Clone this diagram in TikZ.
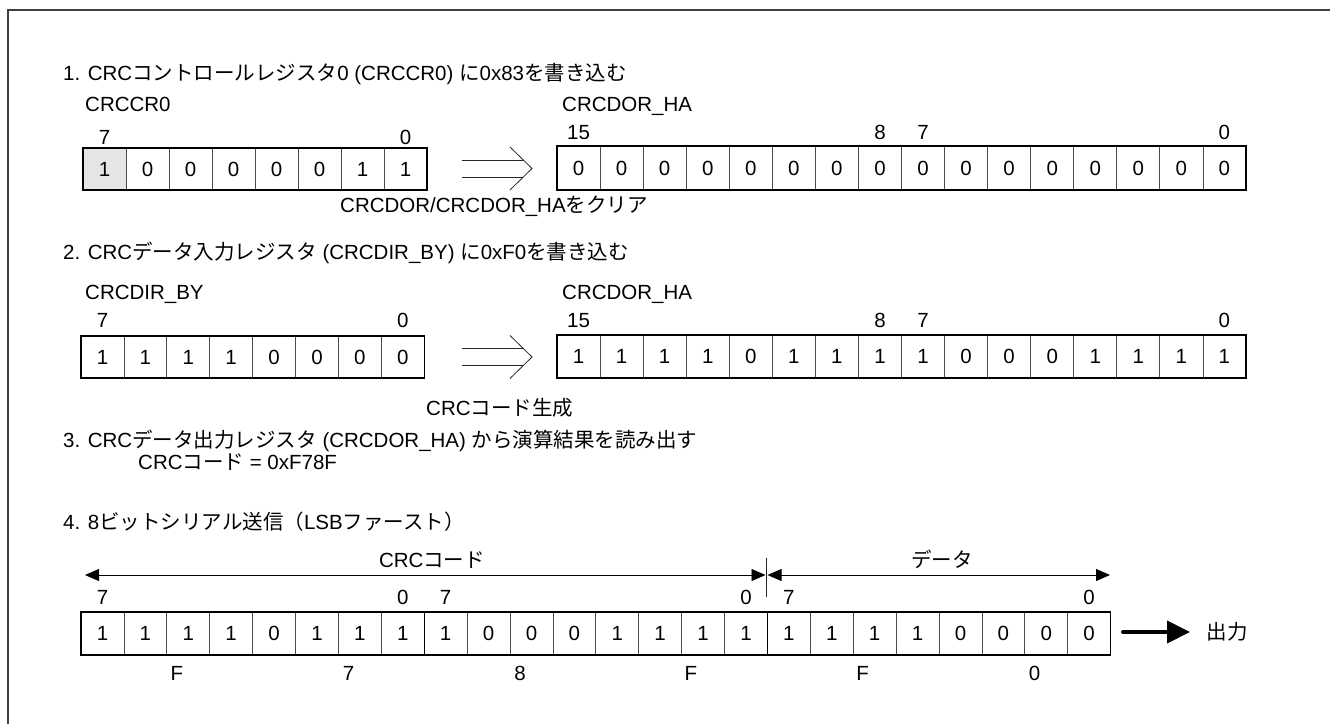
\documentclass[tikz,border=0pt]{standalone}
\usepackage{fontspec}
\setmainfont{Liberation Sans}
\newfontfamily\jpfont{Noto Sans CJK JP}
\newcommand{\J}[1]{{\jpfont#1}}
\usetikzlibrary{arrows.meta,calc}
\tikzset{
  fnt/.style={font=\fontsize{20.5pt}{24pt}\selectfont},
  txt/.style={fnt, inner sep=0pt, anchor=base west},
  ctxt/.style={fnt, inner sep=0pt, anchor=base},
  bitnum/.style={fnt, inner sep=0pt, anchor=south},
  cell/.style={fnt, draw=black!70, line width=0.8pt, inner sep=0pt, outer sep=0pt, anchor=north west},
  regframe/.style={draw=black, line width=1.2pt},
  thinline/.style={draw=black!85, line width=0.8pt},
  frameline/.style={draw=black!75, line width=1.2pt},
  dimline/.style={draw=black, line width=0.9pt, {Triangle[length=14pt,width=12pt]}-{Triangle[length=14pt,width=12pt]}},
  outarrow/.style={draw=black, line width=4pt, line cap=round, -{Triangle[length=23pt,width=22pt]}},
}
\newcommand{\regrow}[6]{%
  \foreach \b [count=\i] in {#6} {
    \node[cell, minimum width=#4pt, minimum height=#5pt] (#1-\i) at ({#2+#4*(\i-1)},#3) {\b};
  }%
}
\newcommand{\bitlab}[3]{\node[bitnum] at ([yshift=#3pt]#1.north) {#2};}
\begin{document}
\begin{tikzpicture}[x=1pt,y=-1pt]
\useasboundingbox (0,0) rectangle (1330,724);
% outer frame
\draw[frameline] (8,724) -- (8,10) -- (1330,10);

% ---------- section 1 ----------
\node[txt] (t1) at (63,80) {1. CRC\J{コントロールレジスタ}0 (CRCCR0) \J{に}0x83\J{を書き込む}};
\node[txt] (n1) at (85,111) {CRCCR0};
\node[txt] (n2) at (562,111) {CRCDOR\_HA};
\regrow{r1}{83}{148}{43}{42}{1,0,0,0,0,0,1,1}
\fill[black!10] ([shift={(0.6pt,-0.6pt)}]r1-1.north west) rectangle ([shift={(-0.4pt,0.6pt)}]r1-1.south east);
\node[fnt, inner sep=0pt] at (r1-1.center) {1};
\draw[regframe] (r1-1.north west) rectangle (r1-8.south east);
\bitlab{r1-1}{7}{3}
\bitlab{r1-8}{0}{3}
\regrow{r2}{557}{146}{43.06}{44}{0,0,0,0,0,0,0,0,0,0,0,0,0,0,0,0}
\draw[regframe] (r2-1.north west) rectangle (r2-16.south east);
\bitlab{r2-1}{15}{6}
\bitlab{r2-8}{8}{6}
\bitlab{r2-9}{7}{6}
\bitlab{r2-16}{0}{6}
% double arrow 1
\coordinate (a1) at (532,168.5);
\draw[thinline] ($(a1)+(-70,-8.5)$) -- ($(a1)+(-9,-8.5)$);
\draw[thinline] ($(a1)+(-70,8.5)$) -- ($(a1)+(-9,8.5)$);
\draw[thinline] ($(a1)+(-22,-21.5)$) -- (a1) -- ($(a1)+(-22,21.5)$);
\node[txt] (c1) at (340,212) {CRCDOR/CRCDOR\_HA\J{をクリア}};

% ---------- section 2 ----------
\node[txt] (t2) at (63,259) {2. CRC\J{データ入力レジスタ} (CRCDIR\_BY) \J{に}0xF0\J{を書き込む}};
\node[txt] (n3) at (85,299) {CRCDIR\_BY};
\node[txt] (n4) at (562,299) {CRCDOR\_HA};
\regrow{r3}{81}{336}{42.9}{42}{1,1,1,1,0,0,0,0}
\draw[regframe] (r3-1.north west) rectangle (r3-8.south east);
\bitlab{r3-1}{7}{8}
\bitlab{r3-8}{0}{8}
\regrow{r4}{557}{335}{43.06}{43}{1,1,1,1,0,1,1,1,1,0,0,0,1,1,1,1}
\draw[regframe] (r4-1.north west) rectangle (r4-16.south east);
\bitlab{r4-1}{15}{7}
\bitlab{r4-8}{8}{7}
\bitlab{r4-9}{7}{7}
\bitlab{r4-16}{0}{7}
% double arrow 2
\coordinate (a2) at (532,357);
\draw[thinline] ($(a2)+(-70,-8.5)$) -- ($(a2)+(-9,-8.5)$);
\draw[thinline] ($(a2)+(-70,8.5)$) -- ($(a2)+(-9,8.5)$);
\draw[thinline] ($(a2)+(-22,-21.5)$) -- (a2) -- ($(a2)+(-22,21.5)$);
\node[txt] (c2) at (426,415) {CRC\J{コード生成}};

% ---------- section 3 ----------
\node[txt] (t3) at (63,447) {3. CRC\J{データ出力レジスタ} (CRCDOR\_HA) \J{から演算結果を読み出す}};
\node[txt] (t3b) at (138,469) {CRC\J{コード} = 0xF78F};

% ---------- section 4 ----------
\node[txt] (t4) at (63,529) {4. 8\J{ビットシリアル送信（}LSB\J{ファースト）}};
\regrow{r5}{81}{612}{42.9}{43}{1,1,1,1,0,1,1,1,1,0,0,0,1,1,1,1,1,1,1,1,0,0,0,0}
\draw[regframe] (r5-1.north west) rectangle (r5-24.south east);
\draw[regframe] (r5-8.north east) -- (r5-8.south east);
\draw[regframe] (r5-16.north east) -- (r5-16.south east);
\bitlab{r5-1}{7}{7}
\bitlab{r5-8}{0}{7}
\bitlab{r5-9}{7}{7}
\bitlab{r5-16}{0}{7}
\bitlab{r5-17}{7}{7}
\bitlab{r5-24}{0}{7}
% dimension arrows
\coordinate (dL) at (85,575);
\coordinate (dM1) at (765.5,575);
\coordinate (dM2) at (767.5,575);
\coordinate (dR) at (1110,575);
\coordinate (vT) at (766.5,558);
\coordinate (vB) at (766.5,597);
\draw[dimline] (dL) -- (dM1);
\draw[dimline] (dM2) -- (dR);
\draw[thinline] (vT) -- (vB);
\node[ctxt] (l1) at (432,567) {CRC\J{コード}};
\node[ctxt] (l2) at (942,567) {\J{データ}};
% hex labels
\node[ctxt] (h1) at (177,680) {F};
\node[ctxt] (h2) at (348.5,680) {7};
\node[ctxt] (h3) at (520,680) {8};
\node[ctxt] (h4) at (691,680) {F};
\node[ctxt] (h5) at (862.5,680) {F};
\node[ctxt] (h6) at (1034.5,680) {0};
% output arrow
\coordinate (o1) at (1123,632);
\coordinate (o2) at (1190,632);
\draw[outarrow] (o1) -- (o2);
\node[ctxt] (out) at (1227,639.5) {\J{出力}};
\end{tikzpicture}
\end{document}
